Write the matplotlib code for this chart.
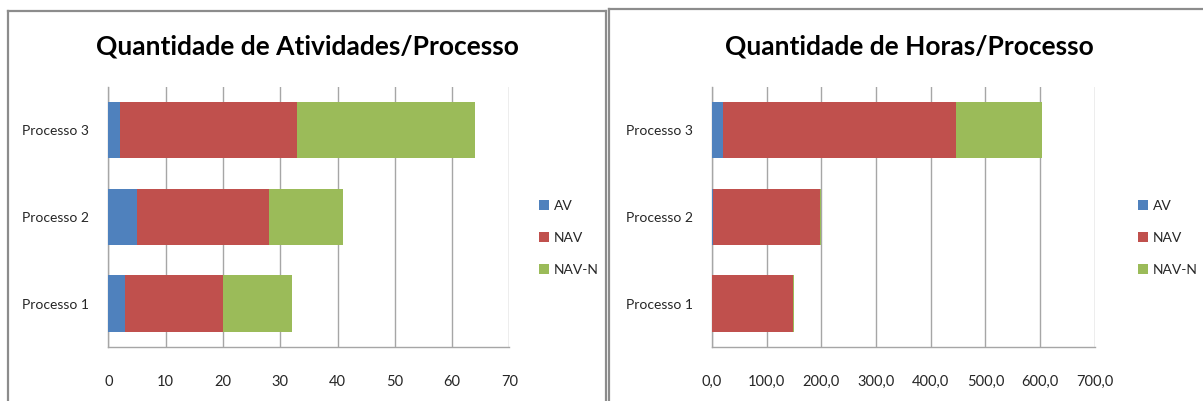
import numpy as np
import matplotlib
matplotlib.use('Agg')
import matplotlib.pyplot as plt
from matplotlib.lines import Line2D

# Dados por processo
processos = ['Processo 1', 'Processo 2', 'Processo 3']
series = ['AV', 'NAV', 'NAV-N']

ativ_av = [3, 5, 2]
ativ_nav = [17, 23, 31]
ativ_navn = [12, 13, 31]

horas_av = [0.5, 1.5, 21.0]
horas_nav = [148.0, 196.0, 426.0]
horas_navn = [1.5, 1.5, 157.0]

cores = ['#4F81BD', '#C0504D', '#9BBB59']

plt.rcParams['font.family'] = ['Lato', 'DejaVu Sans']

W, H = 1203, 401
fig = plt.figure(figsize=(W / 100, H / 100), dpi=100)


def px_axes(x0, y0, x1, y1):
    # pixel box (top-left origin) -> figure fraction
    return fig.add_axes([x0 / W, 1 - y1 / H, (x1 - x0) / W, (y1 - y0) / H])


def desenha(ax, av, nav, navn, xmax, step, fmt, titulo, tx, leg_x):
    y = np.arange(len(processos))
    left = np.zeros(len(processos))
    handles = []
    for vals, cor, nome in zip([av, nav, navn], cores, series):
        b = ax.barh(y, vals, left=left, height=0.65, color=cor,
                    edgecolor='none', label=nome, zorder=3)
        handles.append(b)
        left = left + np.array(vals)
    ax.set_xlim(0, xmax)
    ax.set_ylim(-0.5, len(processos) - 0.5)
    ticks = np.arange(0, xmax + step / 2, step)
    ax.set_xticks(ticks)
    ax.set_xticklabels([fmt(t) for t in ticks])
    ax.set_yticks(y)
    ax.set_yticklabels(processos)
    ax.grid(axis='x', color='#a6a6a6', linewidth=1.0, zorder=0)
    for s in ['top', 'right']:
        ax.spines[s].set_visible(False)
    for s in ['left', 'bottom']:
        ax.spines[s].set_color('#a6a6a6')
        ax.spines[s].set_linewidth(1.0)
    ax.tick_params(axis='x', length=0, pad=20, labelsize=10.5, labelcolor='#262626')
    ax.tick_params(axis='y', length=0, pad=14, labelsize=10, labelcolor='#262626')
    fig.text(tx / W, 1 - 46 / H, titulo, ha='center', va='center',
             fontsize=19, fontweight='bold', color='black')
    fig.legend(handles=handles, labels=series, loc='center left',
               bbox_to_anchor=(leg_x / W, 1 - 238 / H), frameon=False,
               fontsize=10, handlelength=0.75, handleheight=0.75,
               handletextpad=0.3, labelspacing=1.45, labelcolor='#262626',
               borderpad=0, borderaxespad=0)


ax1 = px_axes(108.3, 87, 509.4, 347)
desenha(ax1, ativ_av, ativ_nav, ativ_navn, 70, 10, lambda t: f'{t:.0f}',
        'Quantidade de Atividades/Processo', 307, 539)

ax2 = px_axes(712, 87, 1094.7, 347)
desenha(ax2, horas_av, horas_nav, horas_navn, 700, 100,
        lambda t: f'{t:.1f}'.replace('.', ','),
        'Quantidade de Horas/Processo', 909, 1138)

# molduras dos dois gráficos
def linha(xs, ys, lw=1.6):
    fig.add_artist(Line2D([x / W for x in xs], [1 - y / H for y in ys],
                          color='#8c8c8c', linewidth=lw, transform=fig.transFigure))

linha([8, 8], [11, 401])
linha([8, 606], [11, 11])
linha([606, 606], [11, 401])
linha([609, 609], [9, 401])
linha([609, 1203], [9, 9])

fig.savefig('out.png', dpi=100, facecolor='white')
